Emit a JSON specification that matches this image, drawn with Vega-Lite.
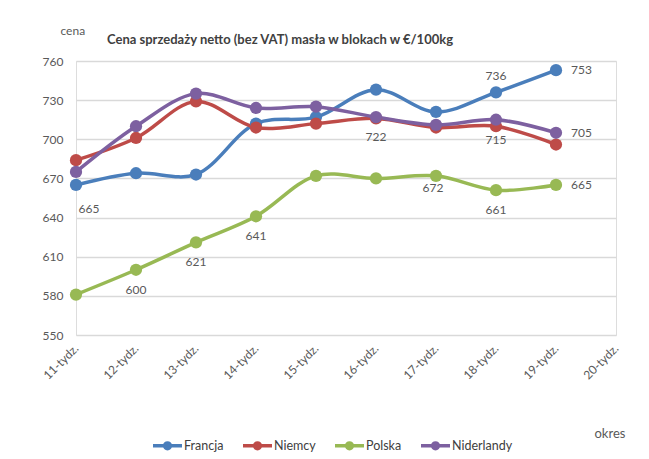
{
  "$schema": "https://vega.github.io/schema/vega-lite/v6.json",
  "autosize": {"type": "none"},
  "width": 540,
  "height": 274,
  "padding": {"left": 76, "top": 61, "right": 33, "bottom": 124},
  "background": "white",
  "title": {
    "text": "Cena sprzedaży netto (bez VAT) masła w blokach w €/100kg",
    "anchor": "start",
    "frame": "group",
    "dx": 31,
    "dy": 35,
    "offset": 12,
    "font": "Lato",
    "fontSize": 13,
    "fontWeight": "bold",
    "color": "#404040"
  },
  "data": {
    "values": [
      {"week": "11-tydz.", "country": "Francja", "value": 665, "label": "665"},
      {"week": "12-tydz.", "country": "Francja", "value": 674, "label": null},
      {"week": "13-tydz.", "country": "Francja", "value": 673, "label": null},
      {"week": "14-tydz.", "country": "Francja", "value": 712, "label": null},
      {"week": "15-tydz.", "country": "Francja", "value": 717, "label": null},
      {"week": "16-tydz.", "country": "Francja", "value": 738, "label": null},
      {"week": "17-tydz.", "country": "Francja", "value": 721, "label": null},
      {"week": "18-tydz.", "country": "Francja", "value": 736, "label": "736"},
      {"week": "19-tydz.", "country": "Francja", "value": 753, "label": "753"},
      {"week": "11-tydz.", "country": "Niemcy", "value": 684, "label": null},
      {"week": "12-tydz.", "country": "Niemcy", "value": 701, "label": null},
      {"week": "13-tydz.", "country": "Niemcy", "value": 729, "label": null},
      {"week": "14-tydz.", "country": "Niemcy", "value": 709, "label": null},
      {"week": "15-tydz.", "country": "Niemcy", "value": 712, "label": null},
      {"week": "16-tydz.", "country": "Niemcy", "value": 716, "label": null},
      {"week": "17-tydz.", "country": "Niemcy", "value": 709, "label": null},
      {"week": "18-tydz.", "country": "Niemcy", "value": 710, "label": null},
      {"week": "19-tydz.", "country": "Niemcy", "value": 696, "label": null},
      {"week": "11-tydz.", "country": "Polska", "value": 581, "label": null},
      {"week": "12-tydz.", "country": "Polska", "value": 600, "label": "600"},
      {"week": "13-tydz.", "country": "Polska", "value": 621, "label": "621"},
      {"week": "14-tydz.", "country": "Polska", "value": 641, "label": "641"},
      {"week": "15-tydz.", "country": "Polska", "value": 672, "label": null},
      {"week": "16-tydz.", "country": "Polska", "value": 670, "label": null},
      {"week": "17-tydz.", "country": "Polska", "value": 672, "label": "672"},
      {"week": "18-tydz.", "country": "Polska", "value": 661, "label": "661"},
      {"week": "19-tydz.", "country": "Polska", "value": 665, "label": "665"},
      {"week": "11-tydz.", "country": "Niderlandy", "value": 675, "label": null},
      {"week": "12-tydz.", "country": "Niderlandy", "value": 710, "label": null},
      {"week": "13-tydz.", "country": "Niderlandy", "value": 735, "label": null},
      {"week": "14-tydz.", "country": "Niderlandy", "value": 724, "label": null},
      {"week": "15-tydz.", "country": "Niderlandy", "value": 725, "label": null},
      {"week": "16-tydz.", "country": "Niderlandy", "value": 717, "label": "722"},
      {"week": "17-tydz.", "country": "Niderlandy", "value": 711, "label": null},
      {"week": "18-tydz.", "country": "Niderlandy", "value": 715, "label": "715"},
      {"week": "19-tydz.", "country": "Niderlandy", "value": 705, "label": "705"}
    ]
  },
  "encoding": {
    "x": {
      "field": "week",
      "type": "ordinal",
      "scale": {
        "type": "point",
        "padding": 0,
        "domain": ["11-tydz.", "12-tydz.", "13-tydz.", "14-tydz.", "15-tydz.", "16-tydz.", "17-tydz.", "18-tydz.", "19-tydz.", "20-tydz."]
      },
      "axis": {
        "title": "okres",
        "titleAngle": 0,
        "titleX": 518,
        "titleY": 98,
        "titleAlign": "left",
        "titleBaseline": "middle",
        "titleFont": "Lato",
        "titleFontSize": 13,
        "titleFontWeight": "normal",
        "titleColor": "#595959",
        "labelAngle": -45,
        "labelAlign": "right",
        "labelBaseline": "middle",
        "labelPadding": 11,
        "labelFont": "Lato",
        "labelFontSize": 12,
        "labelColor": "#595959",
        "ticks": false,
        "domain": false,
        "grid": false
      }
    },
    "y": {
      "field": "value",
      "type": "quantitative",
      "scale": {"domain": [550, 760], "nice": false, "zero": false},
      "axis": {
        "title": "cena",
        "titleAngle": 0,
        "titleX": -16,
        "titleY": -31,
        "titleAlign": "left",
        "titleBaseline": "middle",
        "titleFont": "Lato",
        "titleFontSize": 12,
        "titleFontWeight": "normal",
        "titleColor": "#595959",
        "values": [550, 580, 610, 640, 670, 700, 730, 760],
        "labelPadding": 13,
        "labelFont": "Lato",
        "labelFontSize": 12,
        "labelColor": "#595959",
        "ticks": false,
        "domain": false,
        "grid": true,
        "gridColor": "#d9d9d9",
        "gridWidth": 1.5
      }
    },
    "color": {
      "field": "country",
      "type": "nominal",
      "sort": ["Francja", "Niemcy", "Polska", "Niderlandy"],
      "scale": {
        "domain": ["Francja", "Niemcy", "Polska", "Niderlandy"],
        "range": ["#4a7ebb", "#be4b48", "#98b954", "#7d60a0"]
      },
      "legend": {
        "title": null,
        "orient": "none",
        "direction": "horizontal",
        "legendX": 75,
        "legendY": 368,
        "symbolType": "M -1 0 L 1 0 M -0.2 0 A 0.2 0.2 0 1 0 0.2 0 A 0.2 0.2 0 1 0 -0.2 0 M -0.1 0 A 0.1 0.1 0 1 0 0.1 0 A 0.1 0.1 0 1 0 -0.1 0 M -0.03 0 A 0.03 0.03 0 1 0 0.03 0 A 0.03 0.03 0 1 0 -0.03 0",
        "symbolSize": 841,
        "symbolStrokeWidth": 3.5,
        "symbolOpacity": 1,
        "labelFont": "Lato",
        "labelFontSize": 12.5,
        "labelColor": "#404040",
        "labelOffset": 0,
        "columnPadding": 12
      }
    }
  },
  "layer": [
    {
      "mark": {"type": "line", "interpolate": "catmull-rom", "strokeWidth": 3.5}
    },
    {
      "mark": {"type": "point", "filled": true, "size": 150, "opacity": 1}
    },
    {
      "transform": [
        {"filter": "isValid(datum.label) && datum.week !== '19-tydz.' && datum.week !== '11-tydz.' && datum.week !== '17-tydz.' && !(datum.country === 'Francja' && datum.week === '18-tydz.')"}
      ],
      "mark": {"type": "text", "dy": 20, "font": "Lato", "fontSize": 12, "align": "center", "baseline": "middle"},
      "encoding": {"text": {"field": "label"}, "color": {"value": "#595959"}}
    },
    {
      "transform": [{"filter": "isValid(datum.label) && datum.week === '11-tydz.'"}],
      "mark": {"type": "text", "dy": 24, "dx": 13, "font": "Lato", "fontSize": 12, "align": "center", "baseline": "middle"},
      "encoding": {"text": {"field": "label"}, "color": {"value": "#595959"}}
    },
    {
      "transform": [{"filter": "isValid(datum.label) && datum.week === '17-tydz.'"}],
      "mark": {"type": "text", "dy": 12, "dx": -3, "font": "Lato", "fontSize": 12, "align": "center", "baseline": "middle"},
      "encoding": {"text": {"field": "label"}, "color": {"value": "#595959"}}
    },
    {
      "transform": [{"filter": "isValid(datum.label) && datum.week === '19-tydz.'"}],
      "mark": {"type": "text", "dx": 15, "font": "Lato", "fontSize": 12, "align": "left", "baseline": "middle"},
      "encoding": {"text": {"field": "label"}, "color": {"value": "#595959"}}
    },
    {
      "transform": [{"filter": "datum.country === 'Francja' && datum.week === '18-tydz.'"}],
      "mark": {"type": "text", "dy": -16, "font": "Lato", "fontSize": 12, "align": "center", "baseline": "middle"},
      "encoding": {"text": {"field": "label"}, "color": {"value": "#595959"}}
    }
  ]
}
